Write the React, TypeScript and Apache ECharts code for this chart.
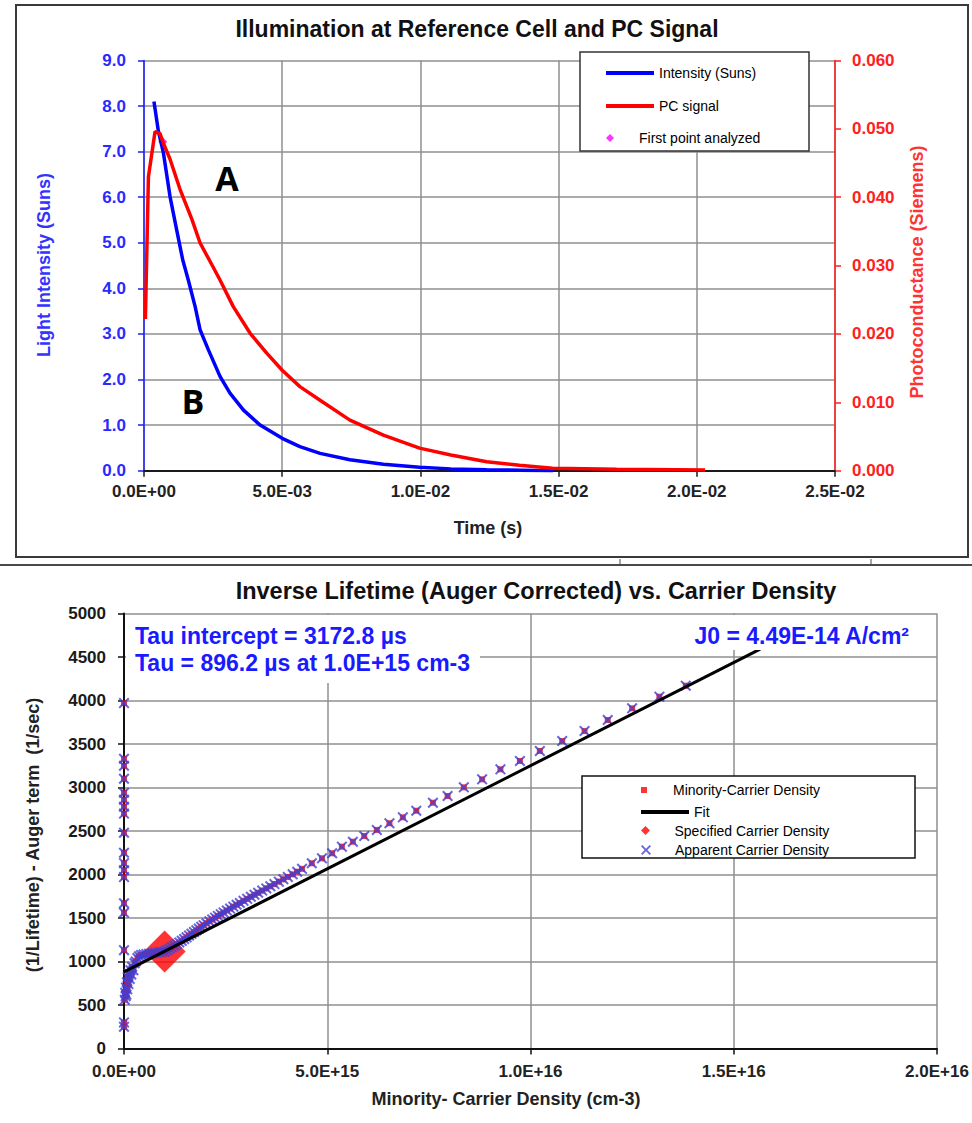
import React, { useEffect, useRef } from "react";
import * as echarts from "echarts";

const FONT = "'Liberation Sans', Arial, Helvetica, sans-serif";

// ---------- Upper panel: flash illumination and photoconductance ----------
const intensityTime = [
  0.00036, 0.00052, 0.0007, 0.00094, 0.00118, 0.0014, 0.0016, 0.00185, 0.00203,
  0.00233, 0.00275, 0.00311, 0.0036, 0.0042, 0.005, 0.00564, 0.00637, 0.00745,
  0.00866, 0.00997, 0.0111, 0.0124, 0.0136, 0.0148,
];
const intensitySuns = [
  8.1, 7.45, 6.98, 6.02, 5.29, 4.63, 4.19, 3.6, 3.09, 2.65, 2.07, 1.7, 1.33, 1.0,
  0.71, 0.53, 0.38, 0.24, 0.14, 0.075, 0.04, 0.02, 0.01, 0.0,
];
const pcTime = [
  0.00005, 0.00016, 0.0004, 0.00058, 0.0007, 0.00094, 0.0013, 0.00173, 0.00203,
  0.0025, 0.00275, 0.00323, 0.00384, 0.00444, 0.005, 0.00564, 0.00637, 0.00745,
  0.00866, 0.00997, 0.0111, 0.0124, 0.01358, 0.01478, 0.0171, 0.0203,
];
const pcSiemens = [
  0.0222, 0.043, 0.0496, 0.0493, 0.0479, 0.0456, 0.0412, 0.0368, 0.0333, 0.0298,
  0.0279, 0.024, 0.0201, 0.0172, 0.0147, 0.0123, 0.0103, 0.0074, 0.0052, 0.0033,
  0.0023, 0.0013, 0.0008, 0.00035, 0.0002, 0.0001,
];
const firstPointTime = 0.00068;
const firstPointSiemens = 0.0481;

// ---------- Lower panel: inverse lifetime vs carrier density ----------
// Points sitting on the density = 0 axis
const zeroDensityRates = [
  3970, 3330, 3250, 3100, 2940, 2860, 2780, 2700, 2480, 2250, 2130, 2050, 1970,
  1670, 1560, 1130, 300, 250,
];
const carrierDensity = [
  0.02e15, 0.03e15, 0.04e15, 0.05e15, 0.06e15, 0.07e15, 0.08e15, 0.09e15, 0.11e15,
  0.12e15, 0.14e15, 0.16e15, 0.18e15, 0.2e15, 0.23e15, 0.26e15, 0.29e15, 0.33e15,
  0.37e15, 0.42e15, 0.48e15, 0.55e15, 0.62e15, 0.7e15, 0.78e15, 0.86e15, 0.93e15,
  1.0e15, 1.06e15, 1.12e15, 1.18e15, 1.24e15, 1.3e15, 1.36e15, 1.42e15, 1.48e15,
  1.54e15, 1.6e15, 1.66e15, 1.72e15, 1.78e15, 1.84e15, 1.9e15, 1.96e15, 2.03e15,
  2.1e15, 2.17e15, 2.24e15, 2.31e15, 2.38e15, 2.45e15, 2.53e15, 2.61e15, 2.69e15,
  2.77e15, 2.85e15, 2.94e15, 3.03e15, 3.12e15, 3.21e15, 3.3e15, 3.4e15, 3.5e15,
  3.6e15, 3.7e15, 3.81e15, 3.92e15, 4.03e15, 4.15e15, 4.26e15, 4.38e15, 4.62e15,
  4.87e15, 5.12e15, 5.36e15, 5.63e15, 5.91e15, 6.22e15, 6.53e15, 6.86e15, 7.19e15,
  7.6e15, 7.96e15, 8.36e15, 8.81e15, 9.26e15, 9.74e15, 10.23e15, 10.78e15,
  11.33e15, 11.9e15, 12.5e15, 13.17e15, 13.82e15,
];
const inverseLifetime = [
  560, 640, 600, 700, 620, 760, 680, 820, 740, 860, 800, 900, 850, 940, 900, 980,
  1000, 1040, 1060, 1075, 1080, 1085, 1090, 1095, 1100, 1105, 1110,
  1116, 1130, 1146, 1163, 1181, 1200, 1219, 1238, 1258, 1278, 1298, 1318, 1338,
  1358, 1378, 1398, 1418, 1440, 1462, 1483, 1504, 1524, 1544, 1564, 1586, 1608,
  1630, 1652, 1673, 1697, 1720, 1744, 1767, 1790, 1815, 1840, 1865, 1890, 1918,
  1945, 1972, 2002, 2032, 2065, 2129,
  2186, 2244, 2320, 2377, 2443, 2512, 2589, 2657, 2733, 2825, 2902, 3002, 3094,
  3209, 3305, 3420, 3534, 3649, 3776, 3910, 4044, 4170,
];
// Straight-line fit, drawn up to where it meets the J0 label
const fitDensity = [0, 1.565e16];
const fitRate = [880, 4590];
const specifiedDensity = 1.0e15;
const specifiedRate = 1115.8; // 1 / 896.2 µs

// ---------- Marker shapes ----------
const SQUARE = "path://M0,0H10V10H0Z";
const DIAMOND = "path://M5,0L10,5L5,10L0,5Z";
const CROSS =
  "path://M1.3,0L5,3.7L8.7,0L10,1.3L6.3,5L10,8.7L8.7,10L5,6.3L1.3,10L0,8.7L3.7,5L0,1.3Z";
const LINE_ICON = "path://M0,0H48V4H0Z";

function sci(v: number): string {
  if (v === 0) return "0.0E+00";
  let e = Math.floor(Math.log10(Math.abs(v)) + 1e-9);
  let ms = (v / Math.pow(10, e)).toFixed(1);
  if (ms === "10.0") {
    e += 1;
    ms = "1.0";
  }
  const ae = Math.abs(e);
  return ms + "E" + (e < 0 ? "-" : "+") + (ae < 10 ? "0" + ae : String(ae));
}

function zip(xs: number[], ys: number[]): number[][] {
  return xs.map((x, i) => [x, ys[i]]);
}

const gridLine = { show: true, lineStyle: { color: "#8f8f8f", width: 1.5 } };
const tickFont = { fontSize: 17, fontWeight: "bold" as const, fontFamily: FONT };

function legendItem(
  name: string,
  icon: string,
  left: number,
  centerY: number,
  h: number
) {
  return {
    data: [{ name, icon }],
    left,
    top: centerY - h / 2,
    itemWidth: 48,
    itemHeight: h,
    padding: 0,
    selectedMode: false,
    itemStyle: { borderWidth: 0 },
    textStyle: { fontSize: 14, color: "#000", fontFamily: FONT },
  };
}

export default function App() {
  const ref = useRef<HTMLDivElement>(null);

  useEffect(() => {
    if (!ref.current) return;
    const chart = echarts.init(ref.current, undefined, { renderer: "svg" });

    const carrierPoints = [
      ...zeroDensityRates.map((r) => [0, r]),
      ...zip(carrierDensity, inverseLifetime),
    ];

    const option: any = {
      animation: false,
      backgroundColor: "#ffffff",
      textStyle: { fontFamily: FONT },
      grid: [
        { left: 144, top: 60.5, width: 691, height: 410.2 },
        { left: 124, top: 613.5, width: 813, height: 435 },
      ],
      xAxis: [
        {
          gridIndex: 0,
          type: "value",
          min: 0,
          max: 0.025,
          interval: 0.005,
          axisLine: { show: true, onZero: false, lineStyle: { color: "#1a1a1a", width: 2 } },
          axisTick: { show: true, length: 6, lineStyle: { color: "#1a1a1a", width: 1.5 } },
          axisLabel: { ...tickFont, color: "#222", margin: 12, formatter: sci },
          splitLine: gridLine,
        },
        {
          gridIndex: 1,
          type: "value",
          min: 0,
          max: 2.0e16,
          interval: 5.0e15,
          axisLine: { show: true, onZero: false, lineStyle: { color: "#111", width: 2 } },
          axisTick: { show: true, length: 6, lineStyle: { color: "#111", width: 1.5 } },
          axisLabel: { ...tickFont, color: "#222", margin: 14, formatter: sci },
          splitLine: gridLine,
        },
      ],
      yAxis: [
        {
          gridIndex: 0,
          type: "value",
          position: "left",
          min: 0,
          max: 9,
          interval: 1,
          axisLine: { show: true, onZero: false, lineStyle: { color: "#1f1fff", width: 1.5 } },
          axisTick: { show: true, length: 6, lineStyle: { color: "#1f1fff", width: 1.5 } },
          axisLabel: {
            ...tickFont,
            color: "#2a2aff",
            margin: 18,
            formatter: (v: number) => v.toFixed(1),
          },
          splitLine: gridLine,
        },
        {
          gridIndex: 0,
          type: "value",
          position: "right",
          min: 0,
          max: 0.06,
          interval: 0.01,
          axisLine: { show: true, onZero: false, lineStyle: { color: "#ff1f1f", width: 1.5 } },
          axisTick: { show: true, length: 6, lineStyle: { color: "#ff1f1f", width: 1.5 } },
          axisLabel: {
            ...tickFont,
            color: "#ff2020",
            margin: 17,
            formatter: (v: number) => v.toFixed(3),
          },
          splitLine: { show: false },
        },
        {
          gridIndex: 1,
          type: "value",
          min: 0,
          max: 5000,
          interval: 500,
          axisLine: { show: true, onZero: false, lineStyle: { color: "#111", width: 2 } },
          axisTick: { show: true, length: 6, lineStyle: { color: "#111", width: 1.5 } },
          axisLabel: {
            ...tickFont,
            color: "#1a1a1a",
            margin: 18,
            formatter: (v: number) => String(v),
          },
          splitLine: gridLine,
        },
      ],
      legend: [
        legendItem("Intensity (Suns)", LINE_ICON, 606, 68, 4),
        legendItem("PC signal", LINE_ICON, 606, 101, 4),
        legendItem("First point analyzed", DIAMOND, 606, 135, 8),
        legendItem("Minority-Carrier Density", SQUARE, 641, 786, 6),
        legendItem("Fit", LINE_ICON, 641, 807, 4),
        legendItem("Specified Carrier Density", DIAMOND, 641, 828, 9),
        legendItem("Apparent Carrier Density", CROSS, 641, 848, 10),
      ],
      series: [
        {
          name: "Intensity (Suns)",
          type: "line",
          xAxisIndex: 0,
          yAxisIndex: 0,
          data: zip(intensityTime, intensitySuns),
          symbol: "none",
          color: "#0000ff",
          lineStyle: { color: "#0000ff", width: 3.5 },
          itemStyle: { color: "#0000ff" },
        },
        {
          name: "PC signal",
          type: "line",
          xAxisIndex: 0,
          yAxisIndex: 1,
          data: zip(pcTime, pcSiemens),
          symbol: "none",
          color: "#ff0000",
          lineStyle: { color: "#ff0000", width: 3.5 },
          itemStyle: { color: "#ff0000" },
        },
        {
          name: "First point analyzed",
          type: "scatter",
          xAxisIndex: 0,
          yAxisIndex: 1,
          data: [[firstPointTime, firstPointSiemens]],
          symbol: DIAMOND,
          symbolSize: 9,
          color: "#ff00ff",
          itemStyle: { color: "#ff00ff" },
        },
        {
          name: "Minority-Carrier Density",
          type: "scatter",
          xAxisIndex: 1,
          yAxisIndex: 2,
          data: carrierPoints,
          symbol: SQUARE,
          symbolSize: 6,
          clip: false,
          color: "#ff0000",
          itemStyle: { color: "#ff0000" },
        },
        {
          name: "Fit",
          type: "line",
          xAxisIndex: 1,
          yAxisIndex: 2,
          data: zip(fitDensity, fitRate),
          symbol: "none",
          color: "#000000",
          lineStyle: { color: "#000000", width: 3 },
          itemStyle: { color: "#000000" },
        },
        {
          name: "Specified Carrier Density",
          type: "scatter",
          xAxisIndex: 1,
          yAxisIndex: 2,
          data: [[specifiedDensity, specifiedRate]],
          symbol: DIAMOND,
          symbolSize: 42,
          color: "#ff0000",
          itemStyle: { color: "#ff0000" },
        },
        {
          name: "Apparent Carrier Density",
          type: "scatter",
          xAxisIndex: 1,
          yAxisIndex: 2,
          data: carrierPoints,
          symbol: CROSS,
          symbolSize: 11,
          clip: false,
          color: "#4040d4",
          itemStyle: { color: "#4040d4" },
        },
      ],
      graphic: [
        // frame around the upper panel and the separator below it
        {
          type: "rect",
          z: 1,
          shape: { x: 16, y: 5, width: 952, height: 552 },
          style: { fill: "none", stroke: "#3a3a3a", lineWidth: 2 },
        },
        {
          type: "line",
          z: 1,
          shape: { x1: 0, y1: 565, x2: 972, y2: 565 },
          style: { stroke: "#4a4a4a", lineWidth: 2 },
        },
        {
          type: "line",
          z: 1,
          shape: { x1: 620, y1: 559, x2: 620, y2: 565 },
          style: { stroke: "#4a4a4a", lineWidth: 1 },
        },
        {
          type: "line",
          z: 1,
          shape: { x1: 871, y1: 559, x2: 871, y2: 565 },
          style: { stroke: "#4a4a4a", lineWidth: 1 },
        },
        // chart titles
        {
          type: "text",
          z: 10,
          x: 477,
          y: 29,
          style: {
            text: "Illumination at Reference Cell and PC Signal",
            font: `bold 23px ${FONT}`,
            fill: "#111",
            align: "center",
            verticalAlign: "middle",
          },
        },
        {
          type: "text",
          z: 10,
          x: 536,
          y: 591,
          style: {
            text: "Inverse Lifetime (Auger Corrected) vs. Carrier Density",
            font: `bold 23.5px ${FONT}`,
            fill: "#111",
            align: "center",
            verticalAlign: "middle",
          },
        },
        // axis titles, upper panel
        {
          type: "text",
          z: 10,
          x: 44,
          y: 265,
          rotation: Math.PI / 2,
          style: {
            text: "Light Intensity (Suns)",
            font: `bold 18px ${FONT}`,
            fill: "#3333ff",
            align: "center",
            verticalAlign: "middle",
          },
        },
        {
          type: "text",
          z: 10,
          x: 917,
          y: 272,
          rotation: Math.PI / 2,
          style: {
            text: "Photoconductance (Siemens)",
            font: `bold 18px ${FONT}`,
            fill: "#ff3333",
            align: "center",
            verticalAlign: "middle",
          },
        },
        {
          type: "text",
          z: 10,
          x: 488,
          y: 528,
          style: {
            text: "Time (s)",
            font: `bold 18px ${FONT}`,
            fill: "#222",
            align: "center",
            verticalAlign: "middle",
          },
        },
        // curve markers
        {
          type: "text",
          z: 10,
          x: 227,
          y: 178,
          style: {
            text: "A",
            font: `bold 34px 'Open Sans', ${FONT}`,
            fill: "#000",
            align: "center",
            verticalAlign: "middle",
          },
        },
        {
          type: "text",
          z: 10,
          x: 193,
          y: 401,
          style: {
            text: "B",
            font: `bold 34px 'Open Sans', ${FONT}`,
            fill: "#000",
            align: "center",
            verticalAlign: "middle",
          },
        },
        // axis titles, lower panel
        {
          type: "text",
          z: 10,
          x: 33,
          y: 835,
          rotation: Math.PI / 2,
          style: {
            text: "(1/Lifetime) - Auger term  (1/sec)",
            font: `bold 18px ${FONT}`,
            fill: "#222",
            align: "center",
            verticalAlign: "middle",
          },
        },
        {
          type: "text",
          z: 10,
          x: 506,
          y: 1099,
          style: {
            text: "Minority- Carrier Density (cm-3)",
            font: `bold 18px ${FONT}`,
            fill: "#222",
            align: "center",
            verticalAlign: "middle",
          },
        },
        // result boxes inside the lower plot
        {
          type: "rect",
          z: 5,
          shape: { x: 126, y: 615, width: 354, height: 68 },
          style: { fill: "#ffffff", stroke: "none" },
        },
        {
          type: "rect",
          z: 5,
          shape: { x: 680, y: 615, width: 254, height: 35 },
          style: { fill: "#ffffff", stroke: "none" },
        },
        {
          type: "text",
          z: 10,
          x: 135,
          y: 636,
          style: {
            text: "Tau intercept = 3172.8 µs",
            font: `bold 23px ${FONT}`,
            fill: "#1a1aff",
            align: "left",
            verticalAlign: "middle",
          },
        },
        {
          type: "text",
          z: 10,
          x: 135,
          y: 663,
          style: {
            text: "Tau = 896.2 µs at 1.0E+15 cm-3",
            font: `bold 23px ${FONT}`,
            fill: "#1a1aff",
            align: "left",
            verticalAlign: "middle",
          },
        },
        {
          type: "text",
          z: 10,
          x: 909,
          y: 636,
          style: {
            text: "J0 = 4.49E-14 A/cm²",
            font: `bold 23px ${FONT}`,
            fill: "#1a1aff",
            align: "right",
            verticalAlign: "middle",
          },
        },
        // legend boxes
        {
          type: "rect",
          z: 3,
          shape: { x: 580, y: 52, width: 229, height: 99 },
          style: { fill: "#ffffff", stroke: "#333", lineWidth: 1.5 },
        },
        {
          type: "rect",
          z: 3,
          shape: { x: 582, y: 776, width: 333, height: 82 },
          style: { fill: "#ffffff", stroke: "#111", lineWidth: 1.5 },
        },
      ],
    };

    chart.setOption(option);
    return () => chart.dispose();
  }, []);

  return (
    <div
      ref={ref}
      style={{ position: "absolute", left: 0, top: 0, width: 972, height: 1123, background: "#fff" }}
    />
  );
}
